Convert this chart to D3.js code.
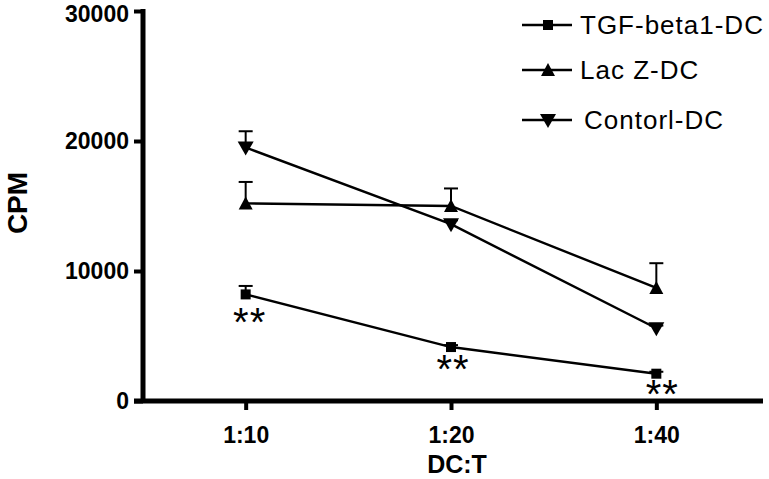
<!DOCTYPE html>
<html>
<head>
<meta charset="utf-8">
<script src="https://cdnjs.cloudflare.com/ajax/libs/d3/7.8.5/d3.min.js"></script>
<style>
  body { margin: 0; background: #fff; }
  svg { display: block; font-family: Arial, "Liberation Sans", sans-serif; }
</style>
</head>
<body>
<div id="chart"></div>
<script>
// data
var ratios     = ['1:10', '1:20', '1:40'];
var yTicks     = [0, 10000, 20000, 30000];
var seriesNames = ['TGF-beta1-DC', 'Lac Z-DC', 'Contorl-DC'];
var tgfMean    = [8200, 4150, 2100];
var tgfErr     = [650, 150, 150];
var lacMean    = [15200, 15000, 8700];
var lacErr     = [1650, 1350, 1900];
var ctlMean    = [19500, 13600, 5600];
var ctlErr     = [1250, 300, 200];
var sigLabels  = ['**', '**', '**'];

var W = 769, H = 479;

var svg = d3.select('#chart').append('svg')
    .attr('width', W)
    .attr('height', H);

var x = d3.scalePoint()
    .domain(ratios)
    .range([143, 759])
    .padding(0.5);

var y = d3.scaleLinear()
    .domain([0, 30000])
    .range([401, 11]);

var series = [
    { name: seriesNames[0], mean: tgfMean, err: tgfErr, shape: 'square' },
    { name: seriesNames[1], mean: lacMean, err: lacErr, shape: 'up' },
    { name: seriesNames[2], mean: ctlMean, err: ctlErr, shape: 'down' }
];

function marker(sel, shape) {
    if (shape === 'square') {
        sel.append('rect').attr('x', -5).attr('y', -5).attr('width', 10).attr('height', 10);
    } else if (shape === 'up') {
        sel.append('path').attr('d', 'M0,-7L7,6L-7,6Z');
    } else {
        sel.append('path').attr('d', 'M0,8L-8,-6L8,-6Z');
    }
}

// axes
var yAxis = svg.append('g')
    .attr('transform', 'translate(143,0)')
    .call(d3.axisLeft(y).tickValues(yTicks).tickSize(9).tickSizeOuter(0).tickFormat(d3.format('d')));
yAxis.select('.domain').attr('stroke-width', 5).attr('d', 'M0,9V403');
yAxis.selectAll('.tick line').attr('stroke-width', 4);
yAxis.selectAll('.tick text')
    .attr('x', -14)
    .attr('dy', function (d) { return d === 30000 ? '0.45em' : '0.32em'; })
    .style('font-size', '23px')
    .style('font-weight', 'bold')
    .attr('fill', '#000');

var xAxis = svg.append('g')
    .attr('transform', 'translate(0,401)')
    .call(d3.axisBottom(x).tickSize(9).tickSizeOuter(0));
xAxis.select('.domain').attr('stroke-width', 5).attr('d', 'M134,0H763');
xAxis.selectAll('.tick line').attr('stroke-width', 4);
xAxis.selectAll('.tick text')
    .attr('y', 26)
    .style('font-size', '23px')
    .style('font-weight', 'bold')
    .attr('fill', '#000');

svg.append('text')
    .attr('transform', 'translate(27,203) rotate(-90)')
    .attr('text-anchor', 'middle')
    .style('font-size', '28px')
    .style('font-weight', 'bold')
    .text('CPM');

svg.append('text')
    .attr('x', x(ratios[1]) + 6)
    .attr('y', 473)
    .attr('text-anchor', 'middle')
    .style('font-size', '25px')
    .style('font-weight', 'bold')
    .text('DC:T');

// series
var line = d3.line()
    .x(function (d, i) { return x(ratios[i]); })
    .y(function (d) { return y(d); });

series.forEach(function (s) {
    var g = svg.append('g');

    // upper error bars only
    s.mean.forEach(function (m, i) {
        var cx = x(ratios[i]), top = y(m + s.err[i]);
        g.append('line')
            .attr('x1', cx).attr('x2', cx)
            .attr('y1', y(m)).attr('y2', top)
            .attr('stroke', '#000').attr('stroke-width', 2);
        g.append('line')
            .attr('x1', cx - 7).attr('x2', cx + 7)
            .attr('y1', top).attr('y2', top)
            .attr('stroke', '#000').attr('stroke-width', 2);
    });

    g.append('path')
        .datum(s.mean)
        .attr('d', line)
        .attr('fill', 'none')
        .attr('stroke', '#000')
        .attr('stroke-width', 2.4);

    s.mean.forEach(function (m, i) {
        var mk = g.append('g')
            .attr('transform', 'translate(' + x(ratios[i]) + ',' + y(m) + ')')
            .attr('fill', '#000');
        marker(mk, s.shape);
    });
});

// significance marks under TGF-beta1 points
var sigDx = [4, 2, 6];
var sigDy = [42, 36, 34];
sigLabels.forEach(function (t, i) {
    svg.append('text')
        .attr('x', x(ratios[i]) + sigDx[i])
        .attr('y', y(tgfMean[i]) + sigDy[i])
        .attr('text-anchor', 'middle')
        .style('font-size', '40px')
        .style('letter-spacing', '1px')
        .text(t);
});

// legend
var legend = svg.append('g');
var legendY = [25, 70, 120];
series.forEach(function (s, i) {
    var row = legend.append('g').attr('transform', 'translate(0,' + legendY[i] + ')');
    row.append('line')
        .attr('x1', 522).attr('x2', 572)
        .attr('stroke', '#000').attr('stroke-width', 2.5);
    var mk = row.append('g').attr('transform', 'translate(548,0)').attr('fill', '#000');
    marker(mk, s.shape);
    row.append('text')
        .attr('x', i === 2 ? 584 : 580)
        .attr('y', 9)
        .style('font-size', '26px')
        .style('letter-spacing', '1px')
        .text(s.name);
});
</script>
</body>
</html>
